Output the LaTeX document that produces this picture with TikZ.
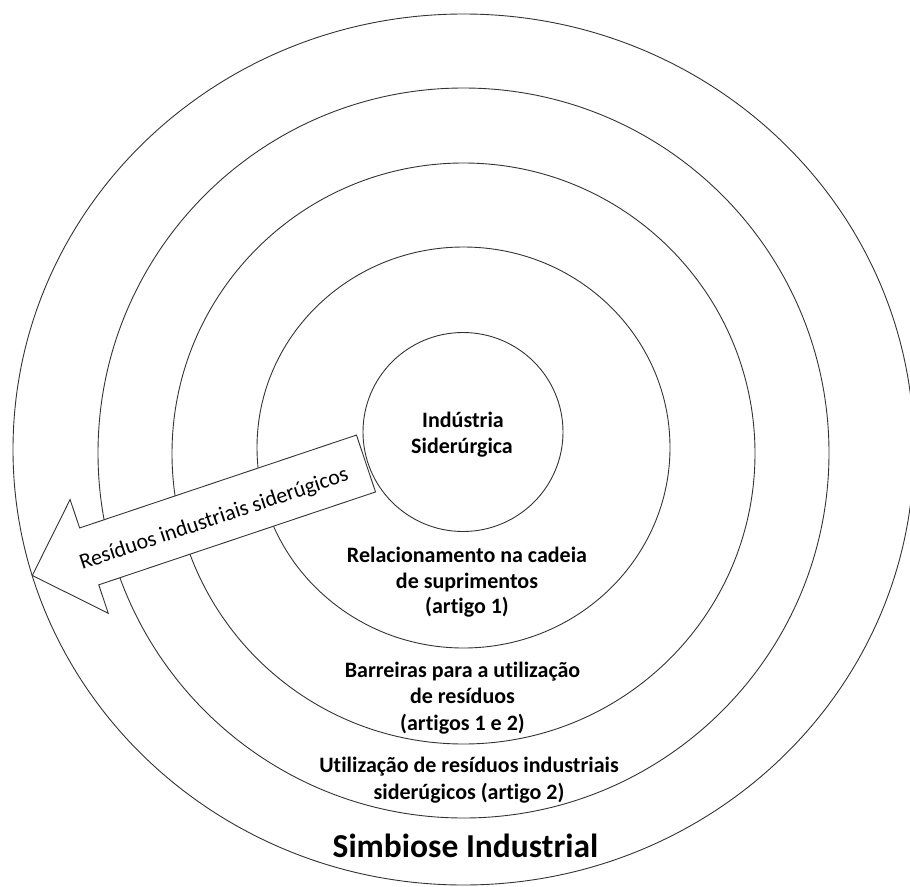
\documentclass[tikz,border=0pt]{standalone}
\usepackage{fontspec}
\setmainfont{Carlito}[Ligatures=NoCommon]
\begin{document}
\begin{tikzpicture}[x=1pt,y=1pt,
  ring/.style={draw=black!80, line width=0.9pt},
  lbl/.style={font=\bfseries\fontsize{22}{26}\selectfont, anchor=base, inner sep=0pt},
  title/.style={font=\bfseries\fontsize{33.5}{40}\selectfont, anchor=base, inner sep=0pt},
  flow/.style={draw=black!80, line width=0.9pt, fill=white, line join=miter},
  flowtext/.style={font=\fontsize{22}{26}\selectfont, anchor=base, inner sep=0pt, rotate=18.55}]
\useasboundingbox (0,0) rectangle (910,-886);
\clip (0,0) rectangle (910,-886);

% concentric rings, outermost first
\coordinate (c0) at (463.5,-449.5);
\coordinate (c1) at (463.5,-453);
\coordinate (c2) at (463.5,-453.5);
\coordinate (c3) at (463.5,-447.5);
\coordinate (c4) at (463,-432);
\draw[ring] (c0) ellipse [x radius=450.5, y radius=435.5];
\draw[ring] (c1) ellipse [x radius=365.5, y radius=365];
\draw[ring] (c2) ellipse [x radius=291.5, y radius=290.5];
\draw[ring] (c3) ellipse [x radius=206.5, y radius=200.5];
\draw[ring] (c4) ellipse [x radius=100, y radius=99.5];

% block arrow leaving the core
\coordinate (tail) at (366,-463.5);
\draw[flow, shift={(tail)}, rotate=198.55]
  (0,-30) -- (292,-30) -- (292,-60) -- (352,0) -- (292,60) -- (292,30) -- (0,30) -- cycle;
\node[flowtext] (flowlabel) at (216,-525) {Resíduos industriais siderúgicos};

% labels of the layers
\node[lbl] (core1) at (463,-427) {Indústria};
\node[lbl] (core2) at (462,-453) {Siderúrgica};

\node[lbl] (sup1) at (467,-562) {Relacionamento na cadeia};
\node[lbl] (sup2) at (467,-588) {de suprimentos};
\node[lbl] (sup3) at (467,-613) {(artigo 1)};

\node[lbl] (bar1) at (462.5,-677) {Barreiras para a utilização};
\node[lbl] (bar2) at (462.5,-703) {de resíduos};
\node[lbl] (bar3) at (462.5,-730) {(artigos 1 e 2)};

\node[lbl] (use1) at (469,-772) {Utilização de resíduos industriais};
\node[lbl] (use2) at (469,-799) {siderúgicos (artigo 2)};

\node[title] (sim) at (465.5,-857) {Simbiose Industrial};
\end{tikzpicture}
\end{document}
